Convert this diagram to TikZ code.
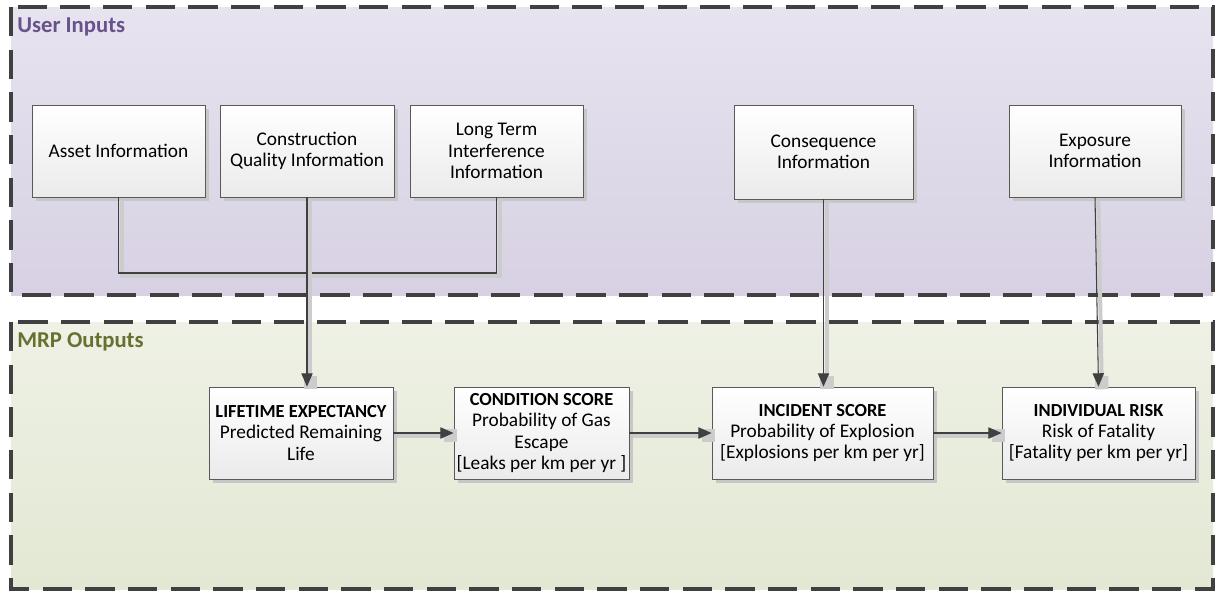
\documentclass[tikz,border=0pt]{standalone}
\usepackage{fontspec}
\setmainfont{Carlito}
\usetikzlibrary{arrows.meta,shadows}
\definecolor{lavtop}{HTML}{E7E3EF}
\definecolor{lavbot}{HTML}{D7D1E3}
\definecolor{grntop}{HTML}{EEF1E5}
\definecolor{grnbot}{HTML}{E3E8D4}
\definecolor{purtitle}{HTML}{67528C}
\definecolor{grntitle}{HTML}{67712F}
\definecolor{edge}{HTML}{404040}
\newcommand\boxhead[1]{{\fontsize{13.8}{16}\selectfont\bfseries #1}}
\tikzset{
  area/.style={draw=edge, line width=2.4pt, dash pattern=on 22pt off 10pt},
  areatitle/.style={anchor=base west, font=\fontsize{17}{20}\selectfont\bfseries, inner sep=0pt},
  inbox/.style={draw=black!65, line width=0.6pt, top color=white, bottom color=black!8,
    align=center, font=\fontsize{14.5}{16}\selectfont, minimum height=69pt, inner sep=2pt,
    general shadow={fill=black!22, shadow xshift=3pt, shadow yshift=-3pt}},
  link/.style={draw=edge, line width=0.8pt,
    preaction={draw=black!20, line width=3pt, transform canvas={xshift=2.5pt,yshift=-2pt}}},
  flow/.style={draw=edge, line width=0.8pt, -{Triangle[length=10pt,width=8.5pt]},
    preaction={draw=black!20, line width=3pt, -{Square[length=10pt,width=10pt]},
      transform canvas={xshift=2.5pt,yshift=-2pt}}}
}
\begin{document}
\begin{tikzpicture}[x=0.75pt,y=-0.75pt]
\useasboundingbox (0,0) rectangle (1216,594);
% containers
\path[area, top color=lavtop, bottom color=lavbot] (11,7) rectangle (1213,295);
\path[area, top color=grntop, bottom color=grnbot] (11,322) rectangle (1213,589);
\node[areatitle, text=purtitle] (usertitle) at (17,32) {User Inputs};
\node[areatitle, text=grntitle] (mrptitle) at (17,347) {MRP Outputs};

% user inputs
\node[inbox, minimum width=129.75pt] (asset) at (118.5,151) {Asset Information};
\node[inbox, minimum width=130.5pt] (constr) at (307,151) {Construction\\Quality Information};
\node[inbox, minimum width=129.75pt] (longterm) at (496.5,151) {Long Term\\Interference\\Information};
\node[inbox, minimum width=134.25pt, minimum height=70.5pt] (conseq) at (823.5,152) {Consequence\\Information};
\node[inbox, minimum width=129pt] (expo) at (1095,151) {Exposure\\Information};

% outputs
\node[inbox, minimum width=138pt] (life) at (301,433) {\boxhead{LIFETIME EXPECTANCY}\\Predicted Remaining\\Life};
\node[inbox, minimum width=129.75pt] (cond) at (541.5,433) {\boxhead{CONDITION SCORE}\\Probability of Gas\\Escape\\{}[Leaks per km per yr ]};
\node[inbox, minimum width=165.75pt] (incident) at (822.5,433) {\boxhead{INCIDENT SCORE}\\Probability of Explosion\\{}[Explosions per km per yr]};
\node[inbox, minimum width=144.75pt] (risk) at (1098.5,433) {\boxhead{INDIVIDUAL RISK}\\Risk of Fatality\\{}[Fatality per km per yr]};

% connectors
\coordinate (bus) at (118.5,273);
\draw[link] (asset.south) -- (bus) -| (longterm.south);
\draw[flow] (constr.south) -- (constr.south |- life.north);
\draw[flow] (conseq.south) -- (conseq.south |- incident.north);
\draw[flow] (expo.south) -- (risk.north);
\draw[flow] (life.east) -- (cond.west);
\draw[flow] (cond.east) -- (incident.west);
\draw[flow] (incident.east) -- (risk.west);
\end{tikzpicture}
\end{document}
